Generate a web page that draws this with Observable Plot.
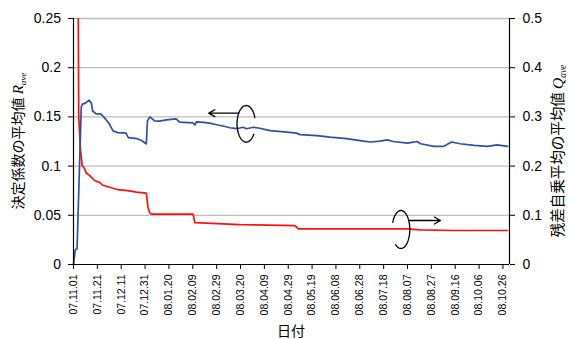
<!DOCTYPE html>
<html><head><meta charset="utf-8">
<script src="https://cdn.jsdelivr.net/npm/d3@7"></script>
<script src="https://cdn.jsdelivr.net/npm/@observablehq/plot@0.6"></script>
<style>body{margin:0;background:#fff;} svg{display:block;}</style>
</head><body><div id="chart"></div>
<script>
// ---- data (days after 2007-11-01) ----
const startYMD = [2007, 10, 1];
const rDays = [0,1.5,3,6.5,7.5,10,13,15,16,19,23,26,30,33,37,44,46,53,57,60,61,62,64,68,72,78,86,89,100,102,103,109,114,120,128,131,137,142,145,151,156,165,179,187,190,204,215,229,243,249,257,263,268,280,288,291,302,310,317,324,336,347,355,364];
const rValues = [0,0.015,0.016,0.160,0.163,0.164,0.167,0.164,0.156,0.153,0.153,0.149,0.143,0.136,0.134,0.1335,0.129,0.128,0.126,0.1235,0.1225,0.146,0.150,0.146,0.1457,0.147,0.148,0.1446,0.144,0.142,0.145,0.1445,0.1436,0.142,0.140,0.139,0.138,0.1395,0.138,0.1395,0.1385,0.136,0.1345,0.1335,0.132,0.131,0.1294,0.128,0.1254,0.1245,0.1254,0.1267,0.125,0.1233,0.125,0.1227,0.120,0.120,0.1245,0.1227,0.121,0.120,0.1216,0.120];
const qDays = [3.0,4.4,5.9,7.3,9.2,10.7,13.4,14.9,17.6,21.8,24.6,31.7,37.2,45.6,52.7,61.1,62.4,63.9,65.3,100.3,101.7,139.5,185.7,188.5,279.6,290.8,318.7,364];
const qValues = [1.0,0.30,0.232,0.201,0.195,0.186,0.181,0.1775,0.1707,0.167,0.161,0.156,0.152,0.150,0.147,0.145,0.1165,0.105,0.1025,0.1025,0.085,0.081,0.079,0.0726,0.0726,0.0705,0.0691,0.0691];
const xTickLabels = ["07.11.01","07.11.21","07.12.11","07.12.31","08.01.20","08.02.09","08.02.29","08.03.20","08.04.09","08.04.29","08.05.19","08.06.08","08.06.28","08.07.18","08.08.07","08.08.27","08.09.16","08.10.06","08.10.26"];
const xDomainDays = [0, 365.5];
const leftTicks = [0,0.05,0.1,0.15,0.2,0.25];
const leftTickLabels = ["0","0.05","0.1","0.15","0.2","0.25"];
const rightTickLabels = ["0","0.1","0.2","0.3","0.4","0.5"];
const rightMax = 0.5, leftMax = 0.25;
// annotations: arrow [fromDay, toDay, R], ellipse [centerDay, centerR, rxDays, ryR, startDeg, endDeg]
const arrowLeft = [138.6, 113.4, 0.1538];
const arrowRight = [281, 307.6, 0.0447];
const ellipseLeft = [144.8, 0.143, 7.7, 0.0186, 35, 340];
const ellipseRight = [274.5, 0.0356, 7.4, 0.0193, 202, 491];

// ---- build ----
const t0 = Date.UTC(...startYMD);
const toDate = d => new Date(t0 + d * 864e5);
const qScale = leftMax / rightMax;
const rData = rDays.map((d, i) => ({date: toDate(d), v: rValues[i]}));
const qData = qDays.map((d, i) => ({date: toDate(d), v: qValues[i] * qScale}));
const tickDates = xTickLabels.map(s => { const [y, m, d] = s.split(".").map(Number); return new Date(Date.UTC(2000 + y, m - 1, d)); });
const arrows = [arrowLeft, arrowRight].map(([a, b, r]) => ({x1: toDate(a), x2: toDate(b), y: r}));
const ellPts = (e, id) => { const [cx, cy, rx, ry, s, t] = e; const pts = []; for (let a = s; a <= t; a += 5) { const th = a * Math.PI / 180; pts.push({id, date: toDate(cx + rx * Math.cos(th)), v: cy - ry * Math.sin(th)}); } return pts; };
const ellData = [...ellPts(ellipseLeft, "L"), ...ellPts(ellipseRight, "R")];

const chart = Plot.plot({
  width: 569, height: 339,
  marginLeft: 73, marginRight: 60, marginTop: 18, marginBottom: 75,
  style: {fontFamily: "'Liberation Sans', Arial, sans-serif", background: "#fff", color: "#000"},
  x: {type: "utc", domain: xDomainDays.map(toDate)},
  y: {domain: [0, leftMax]},
  marks: [
    Plot.ruleY(leftTicks.slice(1), {stroke: "#bdbdbd", strokeWidth: 1.3}),
    Plot.line(qData, {x: "date", y: "v", stroke: "#ff1010", strokeWidth: 1.7, clip: true}),
    Plot.line(rData, {x: "date", y: "v", stroke: "#2f50a8", strokeWidth: 1.7}),
    Plot.ruleX([toDate(xDomainDays[0]), toDate(xDomainDays[1])], {stroke: "#000", strokeWidth: 1.2}),
    Plot.ruleY([0], {stroke: "#000", strokeWidth: 1.2}),
    Plot.axisY({ticks: leftTicks, tickFormat: d => leftTickLabels[leftTicks.indexOf(d)], tickSize: 5, tickPadding: 7.5, fontSize: 14, label: null}),
    Plot.axisY({anchor: "right", ticks: leftTicks, tickFormat: d => rightTickLabels[leftTicks.indexOf(d)], tickSize: 5, tickPadding: 8, fontSize: 14, label: null}),
    Plot.axisX({ticks: tickDates, tickFormat: d => xTickLabels[tickDates.findIndex(t => +t === +d)], tickRotate: -90, tickSize: 5, tickPadding: 5, fontSize: 10.5, label: null}),
    Plot.arrow(arrows, {x1: "x1", x2: "x2", y1: "y", y2: "y", stroke: "#000", strokeWidth: 1.3, headLength: 8, headAngle: 60}),
    Plot.line(ellData, {x: "date", y: "v", z: "id", stroke: "#000", strokeWidth: 1.3, curve: "linear"})
  ]
});
document.getElementById("chart").append(chart);

// axis titles
const svg = d3.select(chart);
const jp = "'Noto Sans CJK JP', sans-serif";
function vLabel(x, y, text, sym, size) {
  const t = svg.append("text").attr("transform", `translate(${x},${y}) rotate(-90)`)
    .attr("text-anchor", "middle").attr("font-family", jp).attr("font-size", size).attr("fill", "#000");
  t.append("tspan").text(text + " ");
  t.append("tspan").attr("font-family", "'Liberation Serif', serif").attr("font-style", "italic").attr("font-size", size + 1).text(sym);
  t.append("tspan").attr("font-family", "'Liberation Serif', serif").attr("font-style", "italic").attr("font-size", size * 0.65).attr("dy", 2.5).text("ave");
}
vLabel(23, 141, "決定係数の平均値", "R", 14);
vLabel(563, 151, "残差自乗平均の平均値", "Q", 14.5);
svg.append("text").attr("x", 291).attr("y", 336).attr("text-anchor", "middle")
  .attr("font-family", jp).attr("font-size", 14).attr("fill", "#000").text("日付");
</script>
</body></html>
